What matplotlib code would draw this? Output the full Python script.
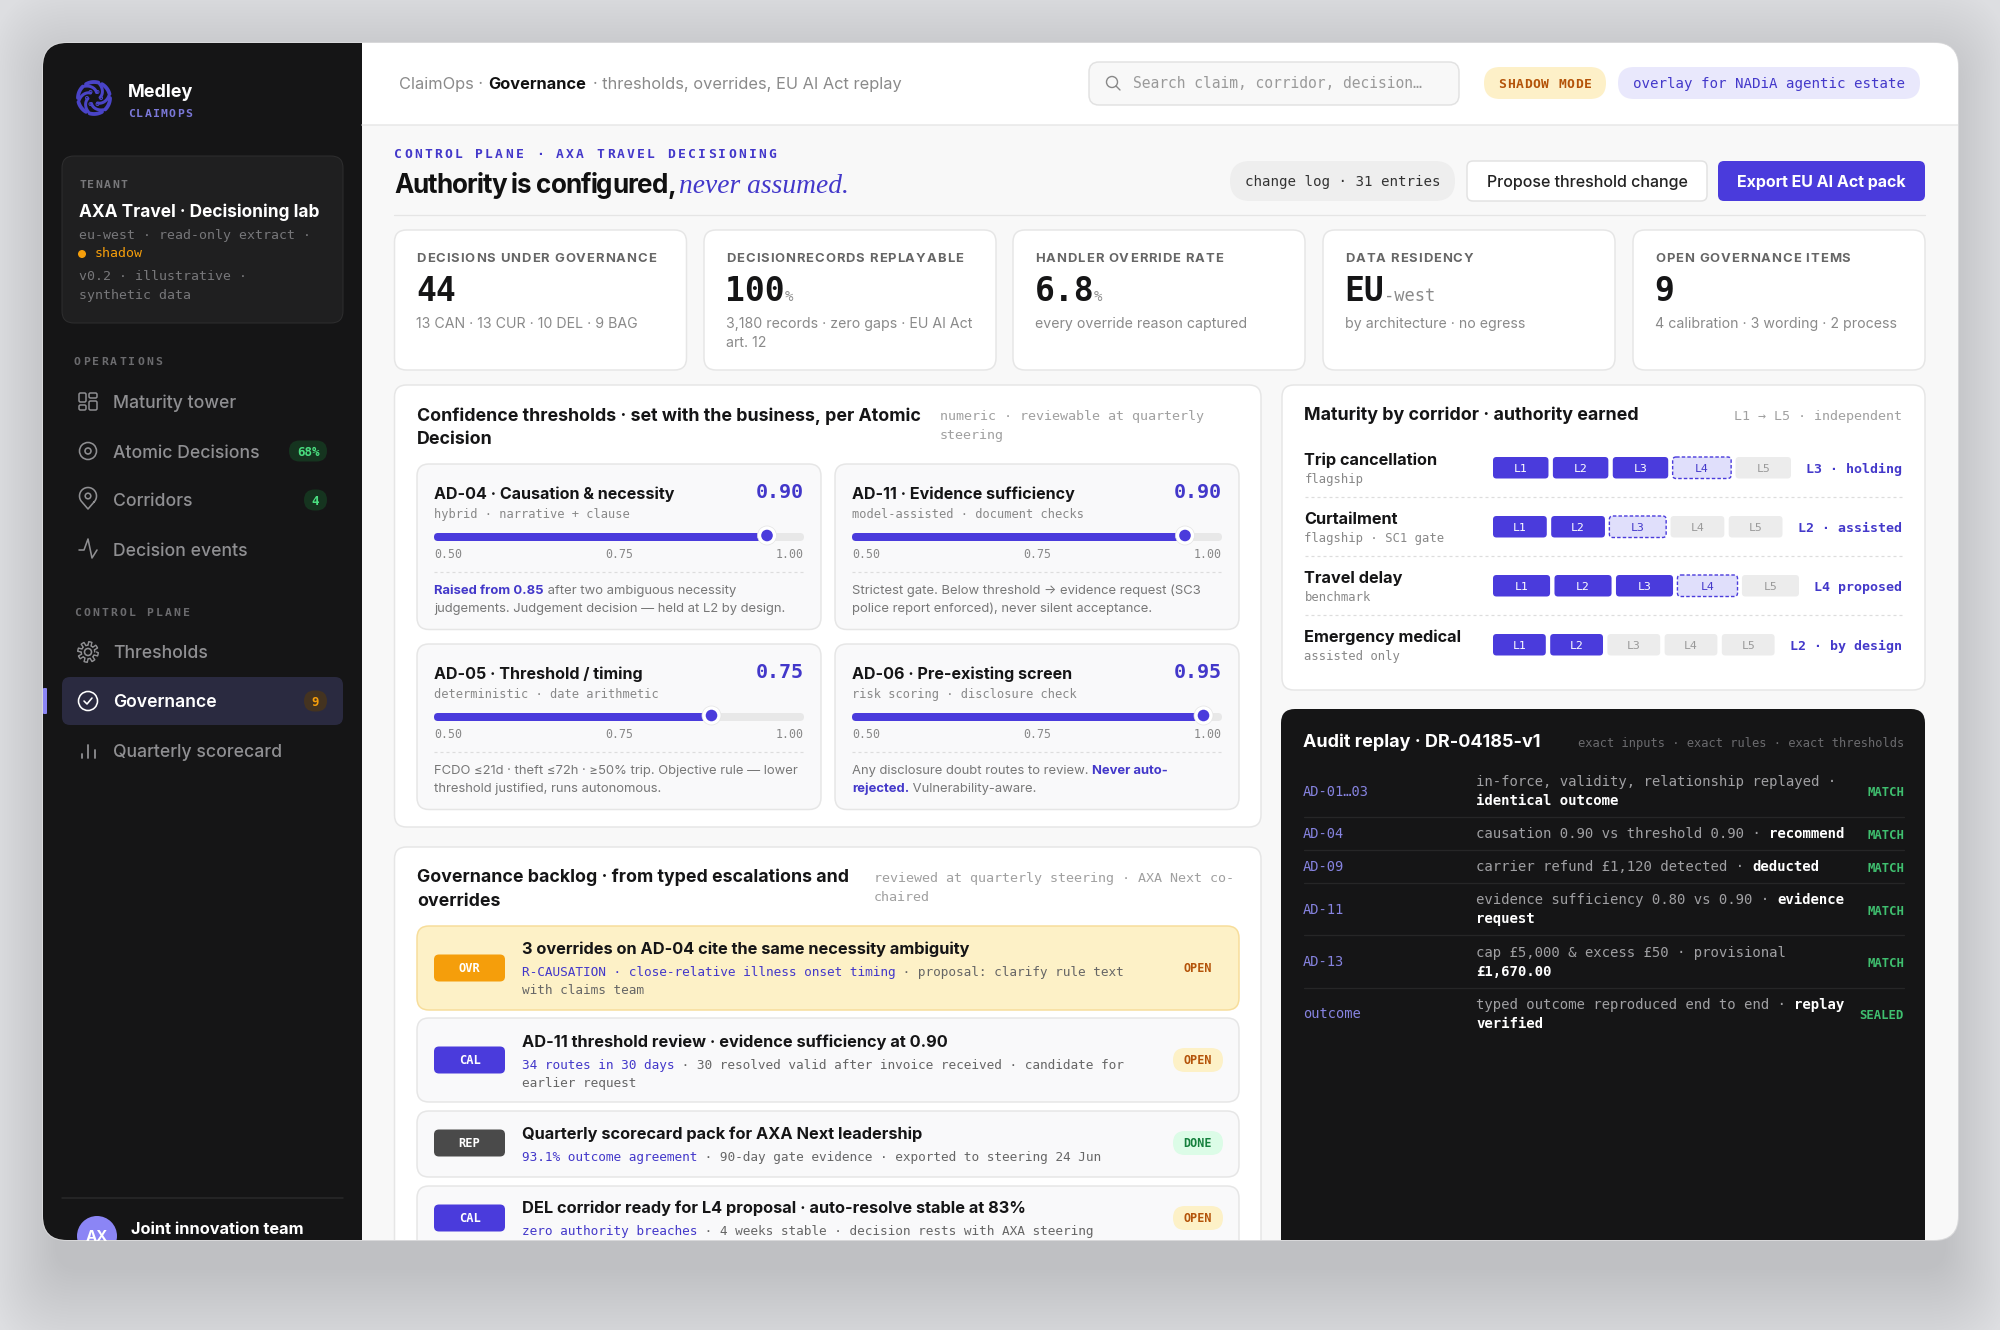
import numpy as np
import matplotlib
matplotlib.use('Agg')
import matplotlib.pyplot as plt
from matplotlib.patches import FancyBboxPatch, Circle
from matplotlib.text import Text
from matplotlib.font_manager import FontProperties

SANS = ['Inter', 'DejaVu Sans']
MONO = ['DejaVu Sans Mono', 'Liberation Mono']
SERIF = ['Liberation Serif', 'DejaVu Serif']

INDIGO = '#4a3bdc'
INK = '#4338ca'
LILAC = '#8b85f5'
AMBER = '#f59e0b'
BROWN = '#b45309'
DARK = '#151516'

# sidebar
tenant_lines = ['eu-west · read-only extract ·', 'v0.2 · illustrative ·', 'synthetic data']
nav_ops = ['Maturity tower', 'Atomic Decisions', 'Corridors', 'Decision events']
nav_control = ['Thresholds', 'Governance', 'Quarterly scorecard']

# kpi cards
kpi_labels = ['DECISIONS UNDER GOVERNANCE', 'DECISIONRECORDS REPLAYABLE', 'HANDLER OVERRIDE RATE',
              'DATA RESIDENCY', 'OPEN GOVERNANCE ITEMS']
kpi_values = ['44', '100', '6.8', 'EU', '9']
kpi_units = ['', '%', '%', '-west', '']
kpi_subs = [['13 CAN · 13 CUR · 10 DEL · 9 BAG'],
            ['3,180 records · zero gaps · EU AI Act', 'art. 12'],
            ['every override reason captured'],
            ['by architecture · no egress'],
            ['4 calibration · 3 wording · 2 process']]

# confidence thresholds
th_names = ['AD-04 · Causation & necessity', 'AD-11 · Evidence sufficiency',
            'AD-05 · Threshold / timing', 'AD-06 · Pre-existing screen']
th_kinds = ['hybrid · narrative + clause', 'model-assisted · document checks',
            'deterministic · date arithmetic', 'risk scoring · disclosure check']
th_values = [0.90, 0.90, 0.75, 0.95]
th_ticks = ['0.50', '0.75', '1.00']
th_notes = [[[('Raised from 0.85', 1), (' after two ambiguous necessity', 0)],
             [('judgements. Judgement decision — held at L2 by design.', 0)]],
            [[('Strictest gate. Below threshold → evidence request (SC3', 0)],
             [('police report enforced), never silent acceptance.', 0)]],
            [[('FCDO ≤21d · theft ≤72h · ≥50% trip. Objective rule — lower', 0)],
             [('threshold justified, runs autonomous.', 0)]],
            [[('Any disclosure doubt routes to review. ', 0), ('Never auto-', 1)],
             [('rejected.', 1), (' Vulnerability-aware.', 0)]]]

# backlog
bl_tags = ['OVR', 'CAL', 'REP', 'CAL']
bl_titles = ['3 overrides on AD-04 cite the same necessity ambiguity',
             'AD-11 threshold review · evidence sufficiency at 0.90',
             'Quarterly scorecard pack for AXA Next leadership',
             'DEL corridor ready for L4 proposal · auto-resolve stable at 83%']
bl_subs = [[[('R-CAUSATION · close-relative illness onset timing', 1), (' · proposal: clarify rule text', 0)],
            [('with claims team', 0)]],
           [[('34 routes in 30 days', 1), (' · 30 resolved valid after invoice received · candidate for', 0)],
            [('earlier request', 0)]],
           [[('93.1% outcome agreement', 1), (' · 90-day gate evidence · exported to steering 24 Jun', 0)]],
           [[('zero authority breaches', 1), (' · 4 weeks stable · decision rests with AXA steering', 0)]]]
bl_status = ['OPEN', 'OPEN', 'DONE', 'OPEN']

# maturity
corridors = ['Trip cancellation', 'Curtailment', 'Travel delay', 'Emergency medical']
corridor_subs = ['flagship', 'flagship · SC1 gate', 'benchmark', 'assisted only']
levels = ['L1', 'L2', 'L3', 'L4', 'L5']
level_now = [3, 2, 3, 2]
level_proposed = [4, 3, 4, 0]
corridor_tags = ['L3 · holding', 'L2 · assisted', 'L4 proposed', 'L2 · by design']

# audit replay
au_ids = ['AD-01…03', 'AD-04', 'AD-09', 'AD-11', 'AD-13', 'outcome']
au_status = ['MATCH', 'MATCH', 'MATCH', 'MATCH', 'MATCH', 'SEALED']
au_text = [[[('in-force, validity, relationship replayed ·', 0)], [('identical outcome', 1)]],
           [[('causation 0.90 vs threshold 0.90 · ', 0), ('recommend', 1)]],
           [[('carrier refund £1,120 detected · ', 0), ('deducted', 1)]],
           [[('evidence sufficiency 0.80 vs 0.90 · ', 0), ('evidence', 1)], [('request', 1)]],
           [[('cap £5,000 & excess £50 · provisional', 0)], [('£1,670.00', 1)]],
           [[('typed outcome reproduced end to end · ', 0), ('replay', 1)], [('verified', 1)]]]


class SpacedText(Text):
    # matplotlib has no letter spacing, so draw glyph by glyph but keep the whole string
    def __init__(self, *args, spacing=0, **kwargs):
        super().__init__(*args, **kwargs)
        self.spacing = spacing

    def draw(self, renderer):
        if not self.spacing:
            return super().draw(renderer)
        s = self.get_text()
        x0, y0 = self.get_position()
        ha = self.get_ha()
        prop = self.get_fontproperties()
        wid = lambda p: renderer.get_text_width_height_descent(p, prop, False)[0]
        dot = wid('.')
        total = wid(s) + self.spacing * (len(s) - 1)
        start = x0 - {'left': 0, 'center': total / 2, 'right': total}[ha]
        self.set_ha('left')
        for i, ch in enumerate(s):
            if ch != ' ':
                self.set_text(ch)
                self.set_x(start + wid(s[:i] + '.') - dot + i * self.spacing)
                super().draw(renderer)
        self.set_text(s)
        self.set_x(x0)
        self.set_ha(ha)


fig = plt.figure(figsize=(20, 13.3), dpi=100, facecolor='#dddee1')
ax = fig.add_axes([0, 0, 1, 1])
ax.set_xlim(0, 2000)
ax.set_ylim(1330, 0)
ax.axis('off')
renderer = fig.canvas.get_renderer()


def box(x0, y0, x1, y1, fc, ec='none', r=10, lw=1.0, ls='-', z=1, alpha=None):
    p = FancyBboxPatch((x0, y0), x1 - x0, y1 - y0, boxstyle=f'round,pad=0,rounding_size={r}',
                       fc=fc, ec=ec, lw=lw * 0.72, ls=ls, zorder=z, alpha=alpha)
    ax.add_patch(p)
    return p


def txt(x, y, s, size, color, weight='normal', family=SANS, ha='left', sp=0, style='normal', z=5):
    t = SpacedText(x, y, s, spacing=sp, fontsize=size * 0.72, color=color, fontweight=weight,
                   family=family, ha=ha, va='baseline', fontstyle=style, zorder=z)
    ax.add_artist(t)
    return t


def measure(s, size, weight, family):
    prop = FontProperties(family=family, size=size * 0.72, weight=weight)
    wid = lambda p: renderer.get_text_width_height_descent(p, prop, False)[0]
    return wid(s + '.') - wid('.')


def runs(x, y, parts, size, colors, weights, family):
    for s, kind in parts:
        txt(x, y, s, size, colors[kind], weights[kind], family)
        x += measure(s, size, weights[kind], family)


def line(xs, ys, color, lw=1.0, ls='-', z=3):
    ax.plot(xs, ys, color=color, lw=lw * 0.72, ls=ls, zorder=z, solid_capstyle='round')


def ring(x, y, r, color, lw=1.6, fc='none', z=3):
    ax.add_patch(Circle((x, y), r, fc=fc, ec=color, lw=lw * 0.72, zorder=z))


# page and window
for i in range(30):
    box(55 - i * 2.2, 73 - i * 3, 1946 + i * 2.2, 1270 + i * 3, 'black', r=24 + i * 2, z=0, alpha=0.0043)
box(42, 42, 1959, 1241, '#d8d8da', r=25, z=0.4)
window = box(43, 43, 1958, 1240, '#f8f8f8', r=24, z=0.5)
box(362, 43, 1958, 125, 'white', r=0, z=0.6)
line([362, 1958], [125, 125], '#e8e8e8', 1.5)
box(43, 43, 362, 1240, DARK, r=0, z=0.6)

# logo
LOGO = '#4a44c8'
for k in range(6):
    a0 = k * np.pi / 3
    a = np.linspace(0, 0.8, 12) + a0
    line(94 + 16 * np.cos(a), 98 + 16 * np.sin(a), LOGO, 3.8)
    a = np.linspace(0.9, 2.0, 16) + a0
    rad = np.linspace(15, 6, 16)
    line(94 + rad * np.cos(a), 98 + rad * np.sin(a), LOGO, 3.0)
    ring(94 + 7 * np.cos(a0), 98 + 7 * np.sin(a0), 1.5, LOGO, 1.0)
txt(128, 97, 'Medley', 18, 'white', 'bold')
txt(128, 117, 'CLAIMOPS', 11.5, '#7b78d8', 'bold', MONO, sp=1.3)

# tenant card
box(62, 156, 343, 323, '#1f1f20', '#2e2e2f', r=12, z=2)
txt(79, 188, 'TENANT', 11.5, '#77777a', 'bold', MONO, sp=1.5)
txt(79, 217, 'AXA Travel · Decisioning lab', 17.3, 'white', 'bold')
txt(79, 239, tenant_lines[0], 13.2, '#77777a', family=MONO)
ax.add_patch(Circle((82, 254), 4, fc=AMBER, ec='none', zorder=4))
txt(95, 257, 'shadow', 13.2, AMBER, family=MONO)
txt(79, 280, tenant_lines[1], 13.2, '#77777a', family=MONO)
txt(79, 299, tenant_lines[2], 13.2, '#77777a', family=MONO)

# nav
txt(74, 365, 'OPERATIONS', 11.5, '#6b6b6e', 'bold', MONO, sp=2.2)
txt(74, 616, 'CONTROL PLANE', 11.5, '#6b6b6e', 'bold', MONO, sp=2.2)
box(62, 677, 343, 725, '#2a2a40', r=8, z=2)
box(43, 688, 47, 714, LILAC, r=1, z=3)
nav_y = [402, 452, 500, 550, 652, 701, 751]
for i, (name, y) in enumerate(zip(nav_ops + nav_control, nav_y)):
    col = 'white' if name == 'Governance' else '#8f8f92'
    txt(113, y + 6, name, 17.6, col, 600 if name == 'Governance' else 500)
icon = '#8f8f92'
box(79, 393, 86, 402, 'none', icon, r=1.5, lw=1.5, z=3)
box(89, 393, 97, 398, 'none', icon, r=1.5, lw=1.5, z=3)
box(79, 405, 86, 410, 'none', icon, r=1.5, lw=1.5, z=3)
box(89, 401, 97, 410, 'none', icon, r=1.5, lw=1.5, z=3)
ring(88, 451, 8.5, icon)
ring(88, 451, 3, icon)
a = np.linspace(-0.25 * np.pi, 1.25 * np.pi, 40)
px = 88 + 8.5 * np.cos(a)
py = 496 - 8.5 * np.sin(a)
line(np.r_[px, 88, px[0]], np.r_[py, 509, py[0]], icon, 1.6)
ring(88, 496, 2.8, icon)
line([79, 84, 88, 92, 97], [550, 550, 539, 558, 550], icon, 1.6)
a = np.linspace(0, 2 * np.pi, 97)
line(88 + (8.5 + 1.8 * np.sign(np.sin(8 * a))) * np.cos(a), 652 + (8.5 + 1.8 * np.sign(np.sin(8 * a))) * np.sin(a), icon, 1.4)
ring(88, 652, 3.5, icon)
ring(88, 701, 9.5, 'white')
line([84, 87, 92], [701, 704, 698], 'white', 1.6)
line([81.5, 81.5], [754, 758], icon, 1.8)
line([88, 88], [745, 758], icon, 1.8)
line([94.5, 94.5], [750, 758], icon, 1.8)

box(289, 440.5, 327, 461.5, '#15341f', r=10.5, z=3)
txt(308, 456, '68%', 12.5, '#4ade80', 'bold', MONO, ha='center')
box(304, 489.5, 327, 510.5, '#15341f', r=10.5, z=3)
txt(315.5, 505, '4', 12.5, '#4ade80', 'bold', MONO, ha='center')
box(304, 690.5, 327, 711.5, '#443320', r=10.5, z=3)
txt(315.5, 706, '9', 12.5, AMBER, 'bold', MONO, ha='center')

line([62, 343], [1198, 1198], '#2a2a2b', 1.5)
ax.add_patch(Circle((97, 1236), 20, fc=LILAC, ec='none', zorder=3))
txt(97, 1241, 'AX', 15, 'white', 'bold', ha='center')
txt(131, 1234, 'Joint innovation team', 16.4, 'white', 'bold')

# top bar
txt(399, 89, 'ClaimOps ·', 16.4, '#8a8a8a')
txt(488, 89, 'Governance', 16.4, '#111111', 'bold')
txt(593, 89, '· thresholds, overrides, EU AI Act replay', 16.4, '#8a8a8a')
box(1089, 62, 1459, 105, '#f8f8f8', '#e2e2e2', r=10, lw=1.5, z=2)
ring(1112, 82, 5.5, '#888888', 1.4)
line([1116, 1120], [86, 90], '#888888', 1.4)
txt(1133, 88, 'Search claim, corridor, decision…', 14.6, '#9a9a9a', family=MONO)
box(1484, 67, 1606, 99, '#fdf0c8', r=16, z=2)
txt(1545, 88, 'SHADOW MODE', 13, BROWN, 'bold', MONO, ha='center', sp=0.7)
box(1618, 67, 1920, 99, '#e9e8fc', r=16, z=2)
txt(1769, 88, 'overlay for NADiA agentic estate', 14.1, INK, family=MONO, ha='center')

# page heading
txt(394, 158, 'CONTROL PLANE · AXA TRAVEL DECISIONING', 13, INK, 'bold', MONO, sp=2.25)
txt(394, 193, 'Authority is configured,', 26, '#111111', 'bold', sp=-0.9)
txt(679, 193, 'never assumed.', 27.5, INK, family=SERIF, style='italic')
box(1230, 161, 1455, 201, '#eeeeee', r=20, z=2)
txt(1342.5, 186, 'change log · 31 entries', 14.1, '#333333', family=MONO, ha='center')
box(1467, 161, 1707, 201, 'white', '#e2e2e2', r=6, lw=1.5, z=2)
txt(1587, 187, 'Propose threshold change', 16, '#222222', 500, ha='center')
box(1718, 161, 1925, 201, INDIGO, r=6, z=2)
txt(1821.5, 187, 'Export EU AI Act pack', 16, 'white', 'bold', ha='center')
line([394, 1925], [215, 215], '#e5e5e5', 1.3)

# kpi cards
kpi_x = [394.5, 704, 1013, 1323, 1633]
for i, x0 in enumerate(kpi_x):
    box(x0, 230, x0 + 292, 370, 'white', '#e6e6e6', r=12, lw=1.5, z=2)
    txt(x0 + 22, 262, kpi_labels[i], 13, '#666666', 'bold', sp=0.95)
    txt(x0 + 21.5, 301, kpi_values[i], 33, '#151516', 'bold', MONO)
    if kpi_units[i]:
        ux = x0 + 21.5 + measure(kpi_values[i], 33, 'bold', MONO)
        us = 17 if kpi_units[i] == '-west' else 14
        txt(ux, 301, kpi_units[i], us, '#8a8a8a', family=MONO)
    for j, s in enumerate(kpi_subs[i]):
        txt(x0 + 22, 328 + j * 19, s, 14.15, '#8a8a8a')

# confidence panel
box(394.5, 385, 1261, 827, 'white', '#e6e6e6', r=12, lw=1.5, z=2)
txt(417, 421, 'Confidence thresholds · set with the business, per Atomic', 17.8, '#151516', 'bold')
txt(417, 444, 'Decision', 17.8, '#151516', 'bold')
txt(940, 420, 'numeric · reviewable at quarterly', 13.4, '#a0a0a0', family=MONO)
txt(940, 439, 'steering', 13.4, '#a0a0a0', family=MONO)
card_x = [(417, 821), (835, 1239), (417, 821), (835, 1239)]
card_y = [464, 464, 644, 644]
for i, ((x0, x1), y0) in enumerate(zip(card_x, card_y)):
    box(x0, y0, x1, y0 + 165.5, '#f9f9fa', '#e6e6e6', r=12, lw=1.5, z=3)
    a, b = x0 + 17, x1 - 17
    txt(a, y0 + 35, th_names[i], 16.1, '#151516', 'bold', z=5)
    txt(b, y0 + 34, f'{th_values[i]:.2f}', 20, INK, 'bold', MONO, ha='right')
    txt(a, y0 + 54, th_kinds[i], 12, '#888888', family=MONO)
    box(a, y0 + 69, b, y0 + 77, '#e8e8e8', r=4, z=4)
    hx = a + (b - a) * th_values[i]
    box(a, y0 + 69, hx, y0 + 77, INDIGO, r=4, z=4.1)
    ax.add_patch(Circle((hx, y0 + 71.5), 9.5, fc='white', ec='#e4e4e4', lw=0.5, zorder=4.2))
    ax.add_patch(Circle((hx, y0 + 71.5), 5.8, fc=INDIGO, ec='none', zorder=4.3))
    txt(a, y0 + 94, th_ticks[0], 11.6, '#888888', family=MONO)
    txt((a + b) / 2, y0 + 94, th_ticks[1], 11.6, '#888888', family=MONO, ha='center')
    txt(b, y0 + 94, th_ticks[2], 11.6, '#888888', family=MONO, ha='right')
    line([a, b], [y0 + 108, y0 + 108], '#dddddd', 1.2, (0, (2.5, 2.5)), z=4)
    for j, parts in enumerate(th_notes[i]):
        runs(a, y0 + 130 + j * 18, parts, 13.0, ['#777777', INK], ['normal', 'bold'], SANS)

# backlog panel
box(394.5, 847, 1261, 1300, 'white', '#e6e6e6', r=12, lw=1.5, z=2)
txt(417, 882, 'Governance backlog · from typed escalations and', 17.7, '#151516', 'bold')
txt(417, 906, 'overrides', 17.7, '#151516', 'bold')
txt(874, 882, 'reviewed at quarterly steering · AXA Next co-', 13.4, '#a0a0a0', family=MONO)
txt(874, 901, 'chaired', 13.4, '#a0a0a0', family=MONO)
bl_y = [(926, 1010), (1018, 1102), (1111, 1177), (1186, 1280)]
bl_cy = [968, 1060, 1143, 1218]
bl_base = [954, 1047, 1139, 1213]
tag_col = {'OVR': AMBER, 'CAL': INDIGO, 'REP': '#4a4a4a'}
for i, (y0, y1) in enumerate(bl_y):
    hot = bl_tags[i] == 'OVR'
    box(417, y0, 1239, y1, '#fdf1c7' if hot else '#f9f9fa', '#f7dd9a' if hot else '#e6e6e6', r=12, lw=1.5, z=3)
    cy = bl_cy[i]
    box(434, cy - 13.5, 505, cy + 13.5, tag_col[bl_tags[i]], r=5, z=4)
    txt(469.5, cy + 4, bl_tags[i], 12, 'white', 'bold', MONO, ha='center')
    txt(521.6, bl_base[i], bl_titles[i], 16.35, '#151516', 'bold')
    for j, parts in enumerate(bl_subs[i]):
        runs(521.6, bl_base[i] + 22 + j * 17.7, parts, 12.7, ['#666666', INK], ['normal', 'normal'], MONO)
    done = bl_status[i] == 'DONE'
    box(1173, cy - 12, 1223, cy + 12, '#dcfce7' if done else '#fdf1c7', r=12, z=4)
    txt(1198, cy + 4, bl_status[i], 11.8, '#15803d' if done else BROWN, 'bold', MONO, ha='center')

# maturity panel
box(1282, 385, 1925, 690, 'white', '#e6e6e6', r=12, lw=1.5, z=2)
txt(1304.5, 420, 'Maturity by corridor · authority earned', 17.9, '#151516', 'bold')
txt(1902, 420, 'L1 → L5 · independent', 13.4, '#a0a0a0', family=MONO, ha='right')
row_y = [457, 516, 575, 634]
row_end = [1791, 1782.5, 1799, 1774.6]
for i, y0 in enumerate(row_y):
    txt(1304.5, y0 + 8, corridors[i], 16.3, '#151516', 'bold')
    txt(1304.5, y0 + 26, corridor_subs[i], 12.2, '#888888', family=MONO)
    gap = 4.4
    extra = 3 if level_proposed[i] else 0
    w = (row_end[i] - 1493 - 4 * gap - extra) / 5
    x = 1493
    for k, lab in enumerate(levels):
        n = k + 1
        if n <= level_now[i]:
            fc, ec, col, ww, ls = INDIGO, 'none', 'white', w, '-'
        elif n == level_proposed[i]:
            fc, ec, col, ww, ls = '#e0dffb', INDIGO, INK, w + extra, (0, (2.5, 1.5))
        else:
            fc, ec, col, ww, ls = '#ececec', 'none', '#999999', w, '-'
        box(x, y0, x + ww, y0 + 21.5, fc, ec, r=3.5, lw=1.4, ls=ls, z=3)
        txt(x + ww / 2, y0 + 15, lab, 11.5, col, family=MONO, ha='center')
        x += ww + gap
    txt(1902, y0 + 16, corridor_tags[i], 13.2, INK, 'bold', MONO, ha='right')
    if i < 3:
        line([1305, 1902], [y0 + 40, y0 + 40], '#dddddd', 1.2, (0, (2.5, 2.5)))

# audit replay
box(1281, 709, 1925, 1300, DARK, r=14, z=2)
txt(1303, 747, 'Audit replay · DR-04185-v1', 18, 'white', 'bold')
txt(1904, 747, 'exact inputs · exact rules · exact thresholds', 12, '#6b6b6e', family=MONO, ha='right')
au_base = [786, 838, 871, 904, 956.5, 1009]
au_mid = [795.5, 838, 871, 914, 966, 1018]
au_div = [817, 850, 883, 935, 988]
for i, y in enumerate(au_base):
    txt(1303, au_mid[i], au_ids[i], 13.7, '#8683e0', family=MONO)
    txt(1904, au_mid[i] + 1, au_status[i], 12.2, '#3fbf6f', 'bold', MONO, ha='right')
    for j, parts in enumerate(au_text[i]):
        runs(1476, y + j * 19.3, parts, 14, ['#a0a0a3', 'white'], ['normal', 'bold'], MONO)
    if i < 5:
        line([1303.6, 1904], [au_div[i], au_div[i]], '#262627', 1.3)

# everything inside the window gets its rounded corners
for art in list(ax.patches) + list(ax.lines) + list(ax.artists) + list(ax.texts):
    if art.get_zorder() > 0.5:
        art.set_clip_on(True)
        art.set_clip_path(window)

fig.savefig('out.png', dpi=100, facecolor=fig.get_facecolor())
